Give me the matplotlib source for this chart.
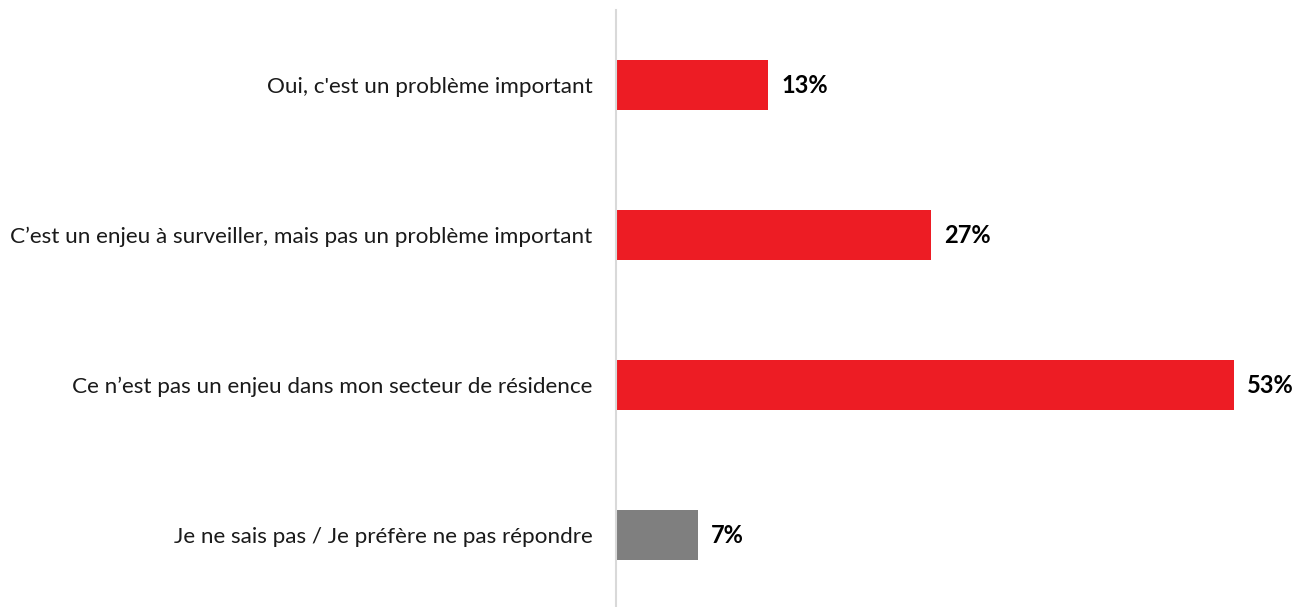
import matplotlib
matplotlib.use("Agg")
import matplotlib.pyplot as plt

categories = [
    "Oui, c'est un problème important",
    "C\u2019est un enjeu à surveiller, mais pas un problème important",
    "Ce n\u2019est pas un enjeu dans mon secteur de résidence",
    "Je ne sais pas / Je préfère ne pas répondre",
]
values = [13, 27, 53, 7]
colors = ["#ED1C24", "#ED1C24", "#ED1C24", "#7F7F7F"]

plt.rcParams['font.family'] = ['Lato', 'DejaVu Sans']

W, H = 1299, 607
fig = plt.figure(figsize=(W / 100, H / 100), dpi=100)
ax = fig.add_axes([616 / W, 0, (1234 - 616) / W, (607 - 10) / H])

pos = list(range(len(categories)))
ax.barh(pos, values, height=0.333, color=colors)
ax.set_xlim(0, 53)
ax.set_ylim(3.48, -0.5)

for p, v in zip(pos, values):
    ax.text(v + 1.15, p, f"{v}%", va="center", ha="left",
            fontsize=17, fontweight="bold", color="black", clip_on=False)

ax.set_yticks(pos)
ax.set_yticklabels(categories, fontsize=16.2, color="#1a1a1a")
ax.tick_params(axis="y", length=0, pad=17)
ax.set_xticks([])

for s in ["top", "right", "bottom"]:
    ax.spines[s].set_visible(False)
ax.spines["left"].set_color("#D9D9D9")
ax.spines["left"].set_linewidth(1.5)

fig.savefig("out.png", dpi=100)
